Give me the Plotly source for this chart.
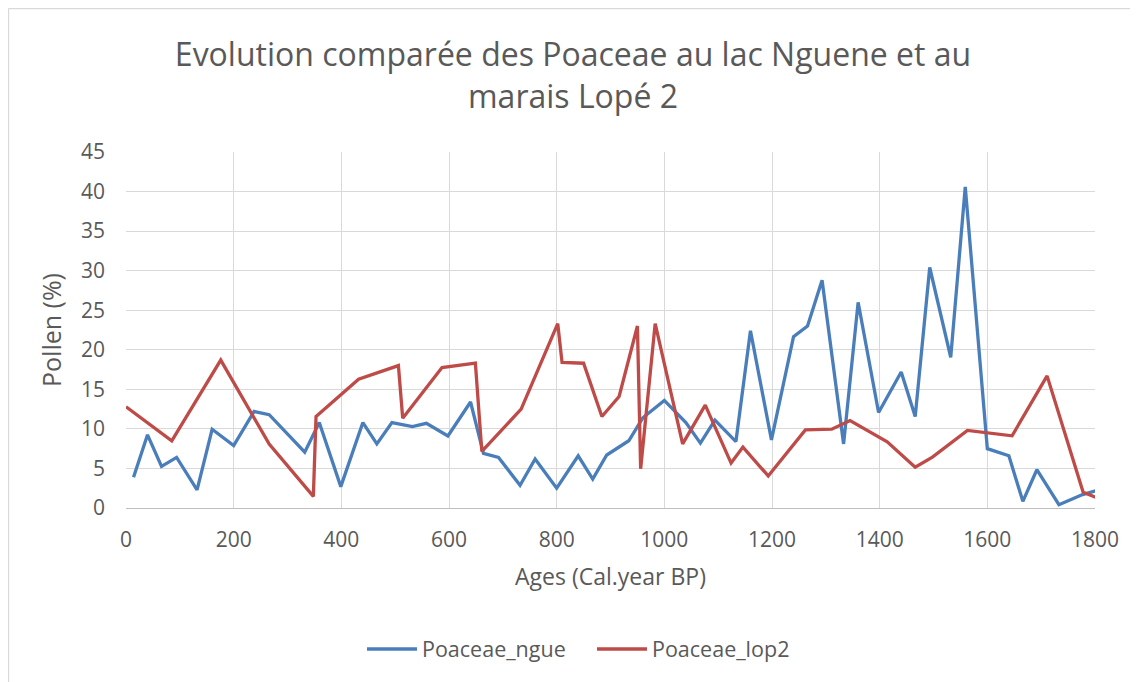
import plotly.graph_objects as go

ngue_age = [14, 40, 66, 94, 132, 160, 200, 238, 266, 332, 359, 399, 440, 466, 494, 532, 558, 598,
            640, 664, 692, 732, 760, 800, 840, 867, 893, 934, 960, 1000, 1040, 1067, 1094, 1133,
            1160, 1199, 1240, 1266, 1293, 1333, 1360, 1398, 1440, 1466, 1493, 1532, 1559, 1600,
            1640, 1666, 1692, 1733, 1777, 1802]
ngue_val = [3.9, 9.25, 5.26, 6.4, 2.3, 9.95, 7.9, 12.2, 11.8, 7.06, 10.8, 2.7, 10.8, 8.1, 10.8,
            10.3, 10.7, 9.1, 13.4, 6.9, 6.4, 2.86, 6.2, 2.5, 6.6, 3.66, 6.7, 8.5, 11.4, 13.6,
            10.8, 8.2, 11.1, 8.4, 22.4, 8.6, 21.65, 23.0, 28.8, 8.1, 26.0, 12.07, 17.2, 11.56,
            30.4, 19.05, 40.6, 7.5, 6.6, 0.84, 4.84, 0.42, 1.7, 2.2]

lop2_age = [0, 85, 176, 266, 348, 353, 432, 506, 514, 587, 649, 661, 734, 802, 810, 850, 884,
            916, 950, 956, 983, 1034, 1076, 1124, 1146, 1193, 1262, 1311, 1345, 1414, 1466,
            1498, 1563, 1646, 1711, 1778, 1805]
lop2_val = [12.8, 8.5, 18.7, 8.07, 1.47, 11.56, 16.27, 18.0, 11.35, 17.75, 18.3, 7.15, 12.5,
            23.3, 18.4, 18.3, 11.56, 14.1, 23.0, 4.96, 23.3, 8.1, 13.0, 5.68, 7.7, 4.05, 9.88,
            9.97, 11.06, 8.37, 5.17, 6.43, 9.8, 9.13, 16.7, 1.98, 1.26]

x_ticks = [0, 200, 400, 600, 800, 1000, 1200, 1400, 1600, 1800]
y_ticks = [0, 5, 10, 15, 20, 25, 30, 35, 40, 45]

TXT = "#595959"
FONT = "Open Sans"

fig = go.Figure()
fig.add_trace(go.Scatter(x=ngue_age, y=ngue_val, mode="lines", name="Poaceae_ngue",
                         line=dict(color="#4A7EBB", width=3.3)))
fig.add_trace(go.Scatter(x=lop2_age, y=lop2_val, mode="lines", name="Poaceae_lop2",
                         line=dict(color="#BE4B48", width=3.3)))

# page body has an 8px margin: figure origin is at window (8, 8)
OFF = 8
W, H = 1138 - OFF, 682 - OFF
L, R, T, B = 126 - OFF, 43, 152 - OFF, 174
pw, ph = W - L - R, H - T - B

def px2x(p):
    return (p - OFF - L) / pw

def py2y(p):
    return (H - B - (p - OFF)) / ph

fig.update_layout(
    width=W, height=H,
    margin=dict(l=L, r=R, t=T, b=B),
    paper_bgcolor="white", plot_bgcolor="white",
    font=dict(family=FONT, color=TXT, size=21),
    title=dict(text="Evolution comparée des Poaceae au lac Nguene et au<br>marais Lopé 2",
               x=0.5, xanchor="center", y=1 - (66 - OFF) / H, yanchor="middle",
               font=dict(family=FONT, size=32, color=TXT)),
    xaxis=dict(range=[0, 1800], tickvals=x_ticks, ticktext=[str(v) for v in x_ticks],
               showgrid=True, gridcolor="#D9D9D9", gridwidth=1.3, zeroline=False,
               showline=True, linecolor="#BFBFBF", linewidth=1.3,
               ticks="", ticklabelstandoff=13,
               tickfont=dict(size=21, color=TXT),
               title=dict(text="Ages (Cal.year BP)", font=dict(size=23, color=TXT), standoff=16)),
    yaxis=dict(range=[0, 45], tickvals=y_ticks, ticktext=[str(v) for v in y_ticks],
               showgrid=True, gridcolor="#D9D9D9", gridwidth=1.3, zeroline=False,
               showline=False, ticks="", ticklabelstandoff=20,
               tickfont=dict(size=21, color=TXT),
               title=dict(text="Pollen (%)", font=dict(size=25, color=TXT), standoff=12)),
    legend=dict(orientation="h", x=px2x(592), xanchor="center", y=py2y(649), yanchor="middle",
                font=dict(size=21.5, color=TXT), itemwidth=50, entrywidth=165,
                bgcolor="rgba(0,0,0,0)"),
    showlegend=True,
)

# chart frame (Excel chart border)
fig.add_shape(type="line", xref="paper", yref="paper", x0=px2x(8.5), x1=px2x(1138),
              y0=py2y(8.5), y1=py2y(8.5), line=dict(color="#D9D9D9", width=1.3))
fig.add_shape(type="line", xref="paper", yref="paper", x0=px2x(8.5), x1=px2x(8.5),
              y0=py2y(8.5), y1=py2y(682), line=dict(color="#D9D9D9", width=1.3))

fig.write_html("out.html")
